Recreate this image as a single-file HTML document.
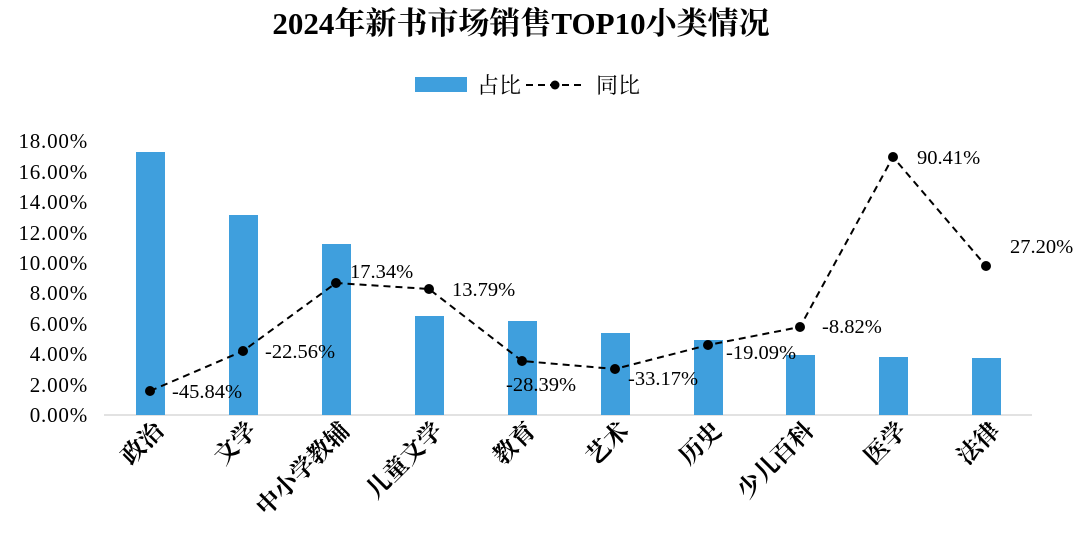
<!DOCTYPE html>
<html><head><meta charset="utf-8"><style>
body{margin:0;background:#fff}
svg{display:block}
text{font-family:"Liberation Serif","Noto Serif CJK SC",serif;fill:#000}
</style></head><body>
<svg width="1080" height="543" viewBox="0 0 1080 543" xmlns="http://www.w3.org/2000/svg">
<text x="521" y="34" text-anchor="middle" font-size="31" font-weight="bold">2024年新书市场销售TOP10小类情况</text>
<rect x="415" y="77" width="52" height="15" fill="#3f9fdd"/>
<text x="477" y="93" font-size="22">占比</text>
<line x1="526" y1="85" x2="585" y2="85" stroke="#000" stroke-width="2" stroke-dasharray="7,5"/>
<circle cx="555" cy="85" r="4.5" fill="#000"/>
<text x="596" y="93" font-size="22">同比</text>
<g font-size="21" text-anchor="end" letter-spacing="0.8">
<text x="88" y="422">0.00%</text>
<text x="88" y="392">2.00%</text>
<text x="88" y="361">4.00%</text>
<text x="88" y="331">6.00%</text>
<text x="88" y="300">8.00%</text>
<text x="88" y="270">10.00%</text>
<text x="88" y="240">12.00%</text>
<text x="88" y="209">14.00%</text>
<text x="88" y="179">16.00%</text>
<text x="88" y="148">18.00%</text>
</g>
<line x1="104" y1="415" x2="1032" y2="415" stroke="#d9d9d9" stroke-width="1.5"/>
<g fill="#3f9fdd">
<rect x="136" y="152" width="29" height="263"/>
<rect x="229" y="215" width="29" height="200"/>
<rect x="322" y="244" width="29" height="171"/>
<rect x="415" y="316" width="29" height="99"/>
<rect x="508" y="321" width="29" height="94"/>
<rect x="601" y="333" width="29" height="82"/>
<rect x="694" y="340" width="29" height="75"/>
<rect x="786" y="355" width="29" height="60"/>
<rect x="879" y="357" width="29" height="58"/>
<rect x="972" y="358" width="29" height="57"/>
</g>
<polyline points="150,391 243,351 336,283 429,289 522,361 615,369 708,345 800,327 893,157 986,266" fill="none" stroke="#000" stroke-width="2" stroke-dasharray="7,5"/>
<g fill="#000">
<circle cx="150" cy="391" r="5"/><circle cx="243" cy="351" r="5"/><circle cx="336" cy="283" r="5"/><circle cx="429" cy="289" r="5"/><circle cx="522" cy="361" r="5"/><circle cx="615" cy="369" r="5"/><circle cx="708" cy="345" r="5"/><circle cx="800" cy="327" r="5"/><circle cx="893" cy="157" r="5"/><circle cx="986" cy="266" r="5"/>
</g>
<g font-size="20.5">
<text x="172" y="398">-45.84%</text>
<text x="265" y="358">-22.56%</text>
<text x="350" y="278">17.34%</text>
<text x="452" y="296">13.79%</text>
<text x="506" y="391">-28.39%</text>
<text x="628" y="385">-33.17%</text>
<text x="726" y="359">-19.09%</text>
<text x="822" y="333">-8.82%</text>
<text x="917" y="164">90.41%</text>
<text x="1010" y="253">27.20%</text>
</g>
<g font-size="24" font-weight="bold" text-anchor="end">
<text transform="translate(165,432) rotate(-45)">政治</text>
<text transform="translate(258,432) rotate(-45)">文学</text>
<text transform="translate(351,432) rotate(-45)">中小学教辅</text>
<text transform="translate(444,432) rotate(-45)">儿童文学</text>
<text transform="translate(537,432) rotate(-45)">教育</text>
<text transform="translate(630,432) rotate(-45)">艺术</text>
<text transform="translate(723,432) rotate(-45)">历史</text>
<text transform="translate(815,432) rotate(-45)">少儿百科</text>
<text transform="translate(908,432) rotate(-45)">医学</text>
<text transform="translate(1001,432) rotate(-45)">法律</text>
</g>
</svg>
</body></html>
